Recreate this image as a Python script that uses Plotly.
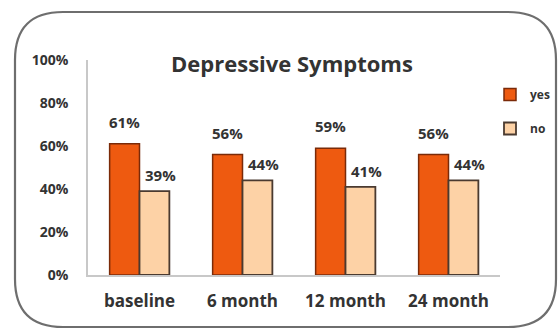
import plotly.graph_objects as go

categories = ["baseline", "6 month", "12 month", "24 month"]
yes_vals = [61, 56, 59, 56]
no_vals = [39, 44, 41, 44]
y_ticks = [0, 20, 40, 60, 80, 100]
y_tick_labels = ["0%", "20%", "40%", "60%", "80%", "100%"]

W, H = 558, 330
L, R, T, B = 88, 58, 60, 55
pw, ph = W - L - R, H - T - B

def px(x):
    return (x - L) / pw

def py(y):
    return (H - B - y) / ph

FONT = "Open Sans"
TXT = "#333333"

fig = go.Figure()
fig.add_trace(go.Bar(
    x=categories, y=yes_vals, name="yes",
    marker=dict(color="#EE5A10", line=dict(color="#7A2A08", width=1.5)),
    legendgroup="a",
))
fig.add_trace(go.Bar(
    x=categories, y=no_vals, name="no",
    marker=dict(color="#FDD2A6", line=dict(color="#4A3A30", width=1.8)),
    legendgroup="b",
))

lab_font = dict(family=FONT, size=15, color=TXT, weight="bold")
annotations = []
for c, v in zip(categories, yes_vals):
    annotations.append(dict(x=c, y=v, xref="x", yref="y", text=f"{v}%", showarrow=False,
                            xshift=-15, yshift=22, font=lab_font))
for c, v in zip(categories, no_vals):
    annotations.append(dict(x=c, y=v, xref="x", yref="y", text=f"{v}%", showarrow=False,
                            xshift=21, yshift=16, font=lab_font))

annotations.append(dict(x=px(292), y=py(46), xref="paper", yref="paper", showarrow=False,
                        text="Depressive Symptoms",
                        font=dict(family=FONT, size=22, color=TXT, weight="bold")))

# rounded frame
l, r, t, b = 15, 556, 12, 327
rad = 48
path = (
    f"M {px(l+rad)},{py(t)} L {px(r-rad)},{py(t)} "
    f"Q {px(r)},{py(t)} {px(r)},{py(t+rad)} "
    f"L {px(r)},{py(b-rad)} Q {px(r)},{py(b)} {px(r-rad)},{py(b)} "
    f"L {px(l+rad)},{py(b)} Q {px(l)},{py(b)} {px(l)},{py(b-rad)} "
    f"L {px(l)},{py(t+rad)} Q {px(l)},{py(t)} {px(l+rad)},{py(t)} Z"
)
shapes = [dict(type="path", path=path, xref="paper", yref="paper",
               line=dict(color="#6E6E6E", width=2.2), layer="below")]

fig.update_layout(
    width=W, height=H,
    margin=dict(l=L, r=R, t=T, b=B, autoexpand=False),
    paper_bgcolor="white", plot_bgcolor="white",
    barmode="group", bargap=0.42, bargroupgap=0.0,
    showlegend=True,
    legend=dict(x=px(490), y=py(80), xanchor="left", yanchor="top",
                font=dict(family=FONT, size=12, color=TXT, weight="bold"),
                tracegroupgap=15, traceorder="grouped", itemwidth=30,
                bgcolor="rgba(0,0,0,0)"),
    annotations=annotations,
    shapes=shapes,
    font=dict(family=FONT),
)
fig.update_yaxes(range=[0, 100], tickvals=y_ticks, ticktext=y_tick_labels,
                 showgrid=False, showline=True, linecolor="#C8C8C8", linewidth=1.5,
                 tickfont=dict(family=FONT, size=14, color=TXT, weight="bold"),
                 ticklabelstandoff=15, zeroline=False)
fig.update_xaxes(showline=True, linecolor="#C8C8C8", linewidth=1.5,
                 tickfont=dict(family=FONT, size=17, color=TXT, weight="bold"),
                 ticklabelstandoff=10)

fig.write_html("out.html")
